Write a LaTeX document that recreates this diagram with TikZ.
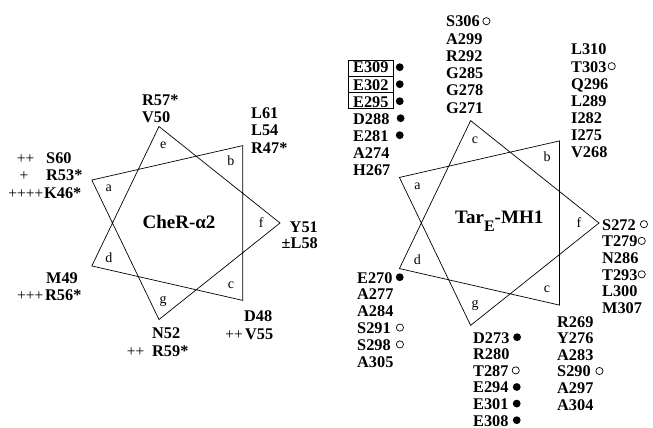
\documentclass[tikz,border=0pt]{standalone}
\usepackage{fontspec}
\setmainfont{Liberation Serif}
\begin{document}
\begin{tikzpicture}[x=1pt,y=-1pt,
  res/.style={font=\fontsize{16.3}{17}\selectfont\bfseries, inner sep=0pt, anchor=base west},
  resr/.style={res, anchor=base east},
  pm/.style={font=\fontsize{15.5}{17}\selectfont, inner sep=0pt, anchor=base},
  heplbl/.style={font=\fontsize{14}{16}\selectfont, inner sep=0pt},
  ttl/.style={font=\fontsize{19}{21}\selectfont\bfseries, inner sep=0pt, anchor=base},
  helix/.style={line width=0.7pt, line join=miter},
  opn/.style={line width=0.7pt}]
\useasboundingbox (0,0) rectangle (653,428);

% heptad wheel: 7/2 star, vertices f,b,e,a,d,g,c counter-clockwise from the right
\newcommand\heptad[3]{%
  \draw[helix] (0:#2) -- (102.857:#2) -- (205.714:#2) -- (308.571:#2)
     -- (51.429:#2) -- (154.286:#2) -- (257.143:#2) -- cycle;
  \foreach \k/\l in {0/f,1/b,2/#3,3/a,4/d,5/g,6/c}
    \node[heplbl] (#1\k) at (\k*51.4286:0.81*#2) {\l};
}
\newcommand\opnmark[2]{\draw[opn] ([xshift=#2pt,yshift=5.8pt]#1.base east) circle[radius=3.6pt];}
\newcommand\filmark[2]{\fill ([xshift=#2pt,yshift=5.8pt]#1.base east) circle[radius=3.9pt];}

% CheR alpha2 wheel
\begin{scope}[shift={(181,223)}, yscale=-1]
  \heptad{L}{99}{e}
\end{scope}
\node[ttl] (cher) at (179,228) {CheR-α2};

\node[res] (r57) at (142,105) {R57*};
\node[res] (v50) at (142,122) {V50};
\node[res] (l61) at (251,118) {L61};
\node[res] (l54) at (251,135.5) {L54};
\node[res] (r47) at (251,153) {R47*};
\node[res] (s60) at (46,163) {S60};
\node[res] (r53) at (46,180.5) {R53*};
\node[res] (k46) at (44,198) {K46*};
\node[pm] (p60) at (25.5,163) {++};
\node[pm] (p53) at (24,180.5) {+};
\node[pm, anchor=base east] (p46) at (43.5,198) {++++};
\node[resr] (y51) at (318,232) {Y51};
\node[resr] (l58) at (318,248.5) {±L58};
\node[res] (m49) at (46,283) {M49};
\node[res] (r56) at (45,300) {R56*};
\node[pm, anchor=base east] (p56) at (43.5,300) {+++};
\node[res] (d48) at (244,321) {D48};
\node[res] (v55) at (245,339) {V55};
\node[pm] (p55) at (234,339) {++};
\node[res] (n52) at (152,338) {N52};
\node[res] (r59) at (152,356) {R59*};
\node[pm] (p59) at (135.5,356) {++};

% Tar_E MH1 wheel
\begin{scope}[shift={(494,223)}, yscale=-1]
  \heptad{R}{105}{c}
\end{scope}
\node[ttl, anchor=base west] (tar) at (455,223)
  {Tar\raisebox{-8pt}{\fontsize{16}{18}\selectfont E}-MH1};

\foreach \t [count=\i from 0] in {S306,A299,R292,G285,G278,G271}
  {\node[res] (pe\i) at (446,27+17.2*\i) {\t};}
\opnmark{pe0}{6.5}

\foreach \t [count=\i from 0] in {E309,E302,E295,D288,E281,A274,H267}
  {\node[res] (pa\i) at (353,73+17*\i) {\t};}
\draw[opn] (348,60) rectangle (393,108);
\draw[opn] (348,76) -- (393,76);
\draw[opn] (348,92) -- (393,92);
\foreach \i in {0,...,4} {\filmark{pa\i}{11}}

\foreach \t [count=\i from 0] in {L310,T303,Q296,L289,I282,I275,V268}
  {\node[res] (pb\i) at (571,55+17*\i) {\t};}
\opnmark{pb1}{5}

\foreach \t [count=\i from 0] in {S272,T279,N286,T293,L300,M307}
  {\node[res] (pf\i) at (602,230+16.7*\i) {\t};}
\opnmark{pf0}{8}
\opnmark{pf1}{4}
\opnmark{pf3}{4}

\foreach \t [count=\i from 0] in {E270,A277,A284,S291,S298,A305}
  {\node[res] (pd\i) at (357,283+16.8*\i) {\t};}
\filmark{pd0}{7}
\opnmark{pd3}{9}
\opnmark{pd4}{9}

\foreach \t [count=\i from 0] in {D273,R280,T287,E294,E301,E308}
  {\node[res] (pg\i) at (473,343+16.6*\i) {\t};}
\filmark{pg0}{7.5}
\opnmark{pg2}{7}
\filmark{pg3}{8}
\filmark{pg4}{8}
\filmark{pg5}{8}

\foreach \t [count=\i from 0] in {R269,Y276,A283,S290,A297,A304}
  {\node[res] (pc\i) at (557,327+16.6*\i) {\t};}
\opnmark{pc3}{8.5}
\end{tikzpicture}
\end{document}
